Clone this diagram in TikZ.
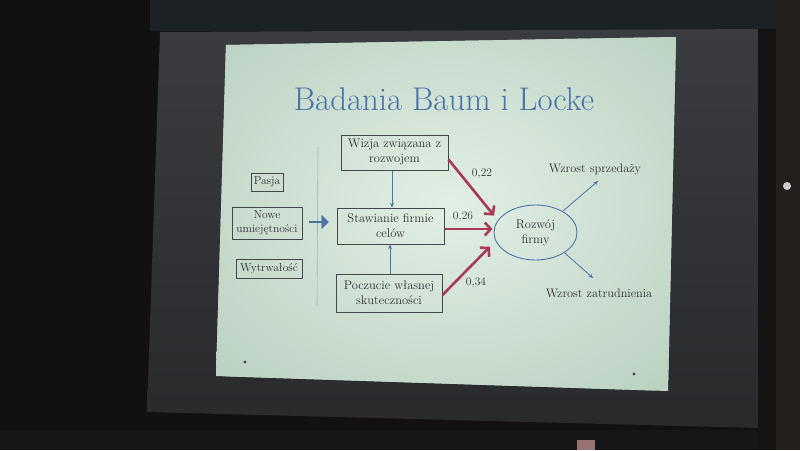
\documentclass[tikz,border=0pt]{standalone}
\usepackage{fontspec}
\usetikzlibrary{arrows.meta,shapes.geometric,shapes.arrows}
\definecolor{bgdark}{HTML}{121013}
\definecolor{topband}{HTML}{1B2125}
\definecolor{screentop}{HTML}{3A3C40}
\definecolor{screenlow}{HTML}{2A2A2D}
\definecolor{rightband}{HTML}{241E1C}
\definecolor{bottomband}{HTML}{161617}
\definecolor{sideband}{HTML}{141414}
\definecolor{slidein}{HTML}{E2EFE4}
\definecolor{slideout}{HTML}{BBD2C3}
\definecolor{titleblue}{HTML}{4A72A6}
\definecolor{boxtext}{HTML}{2E3033}
\definecolor{boxline}{HTML}{45484B}
\definecolor{redarr}{HTML}{A83A58}
\definecolor{bluearr}{HTML}{4A74AA}
\definecolor{sepline}{HTML}{9FB3B0}
\definecolor{dotc}{HTML}{3E4646}
\begin{document}
\begin{tikzpicture}[x=1pt,y=-1pt,
  box/.style={draw=boxline,line width=1pt,text=boxtext,align=center,inner sep=0pt,
              font=\fontsize{12.5}{15}\selectfont},
  sbox/.style={box,font=\fontsize{11.5}{14}\selectfont},
  redline/.style={draw=redarr,line width=2.6pt,-{Straight Barb[length=6pt,width=13pt]}},
  blueline/.style={draw=bluearr,line width=0.8pt,-{Stealth[length=4.5pt,width=4pt]}},
  lbl/.style={text=boxtext,inner sep=0pt,font=\fontsize{11.5}{14}\selectfont},
  outlbl/.style={text=boxtext,inner sep=0pt,font=\fontsize{12.3}{14}\selectfont}
]
\useasboundingbox (0,0) rectangle (800,450);
% photo background
\fill[bgdark] (0,0) rectangle (800,450);
\fill[topband] (150,0) rectangle (800,31);
\shade[top color=screentop,bottom color=screenlow] (160,32) -- (764,29) -- (758,428) -- (147,412) -- cycle;
\fill[sideband] (758,29) rectangle (776,450);
\fill[rightband] (776,0) rectangle (800,450);
\fill[bottomband] (0,430) rectangle (758,450);
\fill[white!75!red!60!black] (577,440) rectangle (595,450);
\fill[white!80!black] (787,186) circle (4pt);
% slide
\begin{scope}
  \clip (226,45) -- (676,37) -- (668,391) -- (216,376) -- cycle;
  \fill[slideout] (0,0) rectangle (800,450);
  \shade[inner color=slidein,outer color=slideout] (450,205) ellipse [x radius=320pt,y radius=240pt];
\end{scope}
\fill[dotc] (245,362) circle (1.6pt);
\fill[dotc] (634,374) circle (1.6pt);
% title
\node[text=titleblue,inner sep=0pt,anchor=base,font=\fontsize{32.8}{38}\selectfont] (title) at (444,110) {Badania Baum i Locke};
% separator line
\draw[sepline,line width=0.6pt] (318,147) -- (317,306);
% left boxes
\node[sbox,minimum width=32pt,minimum height=18pt] (pasja) at (267,182) {Pasja};
\node[sbox,minimum width=70pt,minimum height=32pt] (nowe) at (267,223) {Nowe\\umiejętności};
\node[sbox,minimum width=66pt,minimum height=19pt] (wytr) at (269,268.5) {Wytrwałość};
\node[single arrow,fill=bluearr,draw=bluearr!80!black,line width=0.4pt,minimum height=19pt,minimum width=13pt,
      single arrow head extend=2pt,inner sep=0pt] (barrow) at (318.5,222) {};
% middle boxes
\node[box,minimum width=107pt,minimum height=35pt] (wizja) at (394.5,152.5) {Wizja związana z\\rozwojem};
\node[box,minimum width=107pt,minimum height=36pt] (staw) at (390.5,226) {Stawianie firmie\\celów};
\node[box,minimum width=106pt,minimum height=38pt] (pocz) at (389,293) {Poczucie własnej\\skuteczności};
% ellipse
\node[ellipse,draw=bluearr,line width=0.9pt,minimum width=83pt,minimum height=55pt,inner sep=0pt,
      text=boxtext,align=center,font=\fontsize{12.5}{15}\selectfont] (rozwoj) at (535.5,232.5) {Rozwój\\firmy};
% vertical blue arrows
\draw[blueline] ([xshift=-2.5pt]wizja.south) -- ([xshift=-2.5pt]wizja.south |- staw.north);
\draw[blueline] ([xshift=1pt]pocz.north) -- ([xshift=1pt]pocz.north |- staw.south);
% red arrows
\draw[redline,shorten >=6pt] ([yshift=-7pt]wizja.east) -- (rozwoj.162);
\draw[redline,shorten >=1pt] ([yshift=-3pt]staw.east) -- ([yshift=-3pt]staw.east -| rozwoj.west);
\draw[redline,shorten >=8pt] ([yshift=-2pt]pocz.east) -- (rozwoj.192);
% coefficients
\node[lbl] (c1) at (482,174) {0,22};
\node[lbl] (c2) at (463,217) {0,26};
\node[lbl] (c3) at (476,283) {0,34};
% outcomes
\node[outlbl] (sprz) at (595,169) {Wzrost sprzedaży};
\node[outlbl] (zatr) at (599,293) {Wzrost zatrudnienia};
\coordinate (t1) at (598,181);
\coordinate (t2) at (593,278);
\draw[blueline] (rozwoj.38) -- (t1);
\draw[blueline] (rozwoj.-35) -- (t2);
\end{tikzpicture}
\end{document}
